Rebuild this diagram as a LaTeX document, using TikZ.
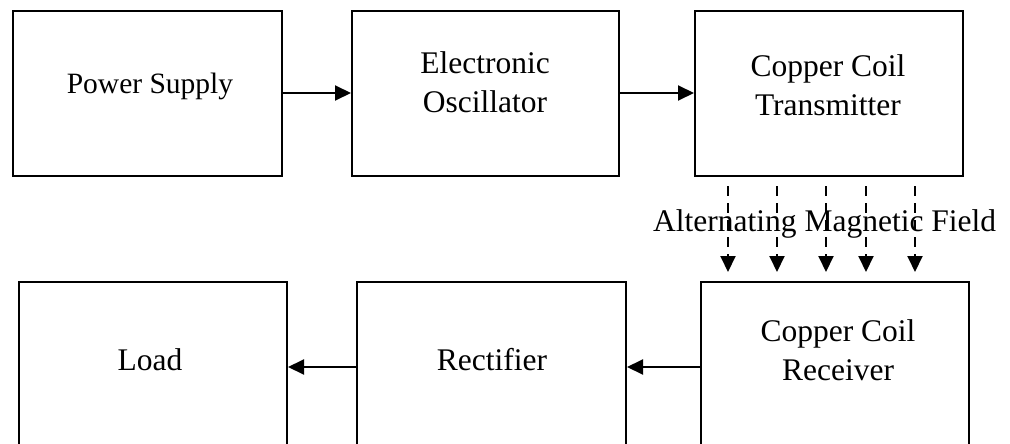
\documentclass[tikz,border=0pt]{standalone}
\usepackage{fontspec}
\setmainfont{Liberation Serif}
\usetikzlibrary{arrows.meta,calc}
\begin{document}
\begin{tikzpicture}[x=1pt,y=-1pt,
  block/.style={draw,line width=2pt,rectangle,inner sep=0pt},
  caption/.style={font=\fontsize{31.5}{38.5}\selectfont,align=center,anchor=base,inner sep=0pt},
  flow/.style={line width=2pt,-{Triangle[length=16pt,width=15pt]}},
  field/.style={line width=2pt,dash pattern=on 10pt off 7pt,-{Triangle[length=16pt,width=15pt]}}]
\useasboundingbox (0,0) rectangle (1010,444);

% transmitting chain
\node[block,minimum width=269pt,minimum height=165pt] (ps)  at (147.5,93.5) {};
\node[block,minimum width=267pt,minimum height=165pt] (osc) at (485.5,93.5) {};
\node[block,minimum width=268pt,minimum height=165pt] (tx)  at (829,93.5) {};

% receiving chain
\node[block,minimum width=268pt,minimum height=165pt] (load) at (153,364) {};
\node[block,minimum width=269pt,minimum height=165pt] (rect) at (491.5,364) {};
\node[block,minimum width=268pt,minimum height=165pt] (rx)   at (835,364.5) {};

% box texts (base = baseline of the last line)
\node[caption,font=\fontsize{29.5}{36}\selectfont] at (150,94) {Power Supply};
\node[caption] at (485,112) {Electronic\\Oscillator};
\node[caption] at (828,115) {Copper Coil\\Transmitter};
\node[caption] at (150,370) {Load};
\node[caption] at (492,370) {Rectifier};
\node[caption] at (838,380) {Copper Coil\\Receiver};

% signal flow
\draw[flow] ([yshift=0.5pt]ps.east) -- ([yshift=0.5pt]osc.west);
\draw[flow] ([yshift=0.5pt]osc.east) -- ([yshift=0.5pt]tx.west);
\draw[flow] ([yshift=-2.5pt]rx.west) -- ([yshift=-3pt]rect.east);
\draw[flow] ([yshift=-3pt]rect.west) -- ([yshift=-3pt]load.east);

% magnetic coupling between the coils
\foreach \dx in {34,83,132,172,221}
  \draw[field] ([xshift=\dx*1pt,yshift=-9pt]tx.south west)
            -- ([xshift={(\dx-6)*1pt},yshift=9pt]rx.north west);
\node[caption,anchor=base west] (amf) at (653,231) {Alternating Magnetic Field};
\end{tikzpicture}
\end{document}
